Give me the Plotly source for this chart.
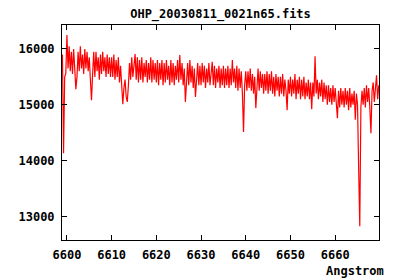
import numpy as np
import plotly.graph_objects as go

title_text = "OHP_20030811_0021n65.fits"
x_label = "Angstrom"
wave_start = 6599.0
wave_step = 0.25

flux = [
    15900, 14130, 15500, 15560,
    # 6600
    16250, 15650, 16050, 15600, 15950, 15550, 16000, 15700, 15280, 15500, 15950, 15600, 16050, 15650, 15900, 15550, 16000, 15650, 15950, 15600,
    # 6605
    15850, 15450, 15080, 15550, 15950, 15500, 15950, 15600, 15850, 15450, 15900, 15550, 15950, 15600, 15850, 15500, 15900, 15550, 15850, 15500,
    # 6610
    15850, 15500, 15900, 15450, 15800, 15500, 15850, 15400, 15700, 15350, 15010, 15300, 15450, 15150, 15050, 15350, 15750, 15450, 15850, 15500,
    # 6615
    15800, 15910, 15450, 15850, 15400, 15800, 15450, 15850, 15400, 15750, 15500, 15800, 15400, 15750, 15450, 15850, 15400, 15800, 15450, 15750,
    # 6620
    15400, 15800, 15350, 15750, 15450, 15800, 15350, 15750, 15400, 15800, 15450, 15700, 15350, 15800, 15400, 15750, 15350, 15700, 15450, 15800,
    # 6625
    15400, 15890, 15450, 15750, 15350, 15650, 15050, 15500, 15750, 15350, 15800, 15400, 15700, 15300, 15650, 15140, 15550, 15750, 15350, 15700,
    # 6630
    15350, 15750, 15400, 15700, 15300, 15650, 15400, 15750, 15350, 15650, 15770, 15350, 15700, 15300, 15650, 15400, 15700, 15300, 15650, 15350,
    # 6635
    15700, 15300, 15650, 15350, 15700, 15300, 15650, 15350, 15800, 15400, 15650, 15300, 15700, 15250, 15650, 15300, 15600, 15200, 14510, 15350,
    # 6640
    15600, 15250, 15600, 15300, 15650, 15250, 15550, 15200, 15500, 14940, 15450, 15650, 15250, 15600, 15300, 15550, 15200, 15550, 15250, 15600,
    # 6645
    15200, 15550, 15250, 15600, 15200, 15500, 15150, 15550, 15250, 15500, 15150, 15500, 15200, 15550, 15150, 15450, 15250, 14900, 15450, 15200,
    # 6650
    15500, 15150, 15450, 15200, 15550, 15100, 15450, 15200, 15500, 15100, 15450, 15150, 15500, 15100, 15400, 15150, 15450, 15100, 15400, 14920,
    # 6655
    15400, 15150, 15870, 15200, 15450, 15100, 15400, 15150, 15450, 15050, 15400, 15100, 15350, 15000, 15350, 15050, 15300, 15000, 15350, 15050,
    # 6660
    15300, 15000, 14760, 15250, 14950, 15300, 15000, 15250, 14950, 15300, 15000, 15250, 14900, 15300, 14950, 15200, 15000, 15250, 14730, 15200,
    # 6665
    15000, 13850, 12820, 14950, 15250, 15000, 15300, 14950, 15350, 15050, 15300, 14950, 14490, 15250, 15400, 15050, 15350, 15530, 15100, 15350,
]

x_ticks = [6600, 6610, 6620, 6630, 6640, 6650, 6660]
y_ticks = [13000, 14000, 15000, 16000]

wave = wave_start + wave_step * np.arange(len(flux))

fig = go.Figure()
fig.add_trace(go.Scatter(x=wave, y=flux, mode="lines",
                         line=dict(color="#ff0000", width=1.2),
                         showlegend=False, hoverinfo="skip"))

axis_common = dict(
    showline=True, linecolor="black", linewidth=1, mirror="allticks",
    ticks="inside", ticklen=5, tickcolor="black", tickwidth=1,
    showgrid=False, zeroline=False,
)

fig.update_layout(
    width=400, height=280,
    margin=dict(l=62, r=21, t=25, b=40),
    paper_bgcolor="white", plot_bgcolor="white",
    font=dict(family="DejaVu Sans Mono", size=12, color="black", weight="bold"),
    title=dict(text=title_text, x=0.5, xref="paper", xanchor="center",
               y=1 - 14 / 280, yref="container", yanchor="middle",
               font=dict(family="DejaVu Sans Mono", size=12, color="black", weight="bold")),
    xaxis=dict(range=[6598.9, 6669.8], tickvals=x_ticks,
               ticktext=[str(v) for v in x_ticks], ticklabelstandoff=4, **axis_common),
    yaxis=dict(range=[12575, 16430], tickvals=y_ticks,
               ticktext=[str(v) for v in y_ticks], ticklabelstandoff=4, **axis_common),
    annotations=[dict(text=x_label, xref="paper", yref="paper",
                      x=(386 - 62) / 317, y=(240 - 271) / 215,
                      xanchor="right", yanchor="middle", showarrow=False,
                      font=dict(family="DejaVu Sans Mono", size=12, color="black", weight="bold"))],
)

fig.write_html("out.html")
